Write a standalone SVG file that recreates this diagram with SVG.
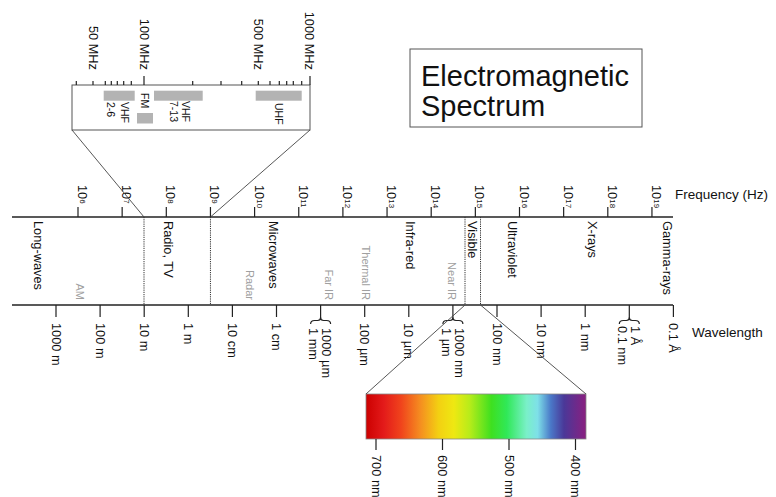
<svg xmlns="http://www.w3.org/2000/svg" width="776" height="497" viewBox="0 0 776 497">
<style>
text{font-family:"Liberation Sans",Arial,Helvetica,sans-serif;fill:#111}
.ax{stroke:#222;stroke-width:1.3;fill:none}
.tk{stroke:#222;stroke-width:1.2;fill:none}
.box{stroke:#555;stroke-width:1;fill:none}
.ln{stroke:#444;stroke-width:0.9;fill:none}
.dot{stroke:#333;stroke-width:1;stroke-dasharray:1.2 1;fill:none}
.lbl{font-size:12.8px}
.hd{font-size:13.5px}
.g{font-size:11px;fill:#a0a0a0}
.sm{font-size:10.5px}
.bar{fill:#b3b3b3}
.sup{font-size:8px}
</style>
<defs>
<linearGradient id="vis" x1="0" y1="0" x2="1" y2="0">
<stop offset="0" stop-color="#cc0000"/>
<stop offset="0.08" stop-color="#e31a1a"/>
<stop offset="0.16" stop-color="#f0441c"/>
<stop offset="0.25" stop-color="#f59020"/>
<stop offset="0.33" stop-color="#f3d012"/>
<stop offset="0.4" stop-color="#eee812"/>
<stop offset="0.47" stop-color="#b8ec1a"/>
<stop offset="0.57" stop-color="#3ee020"/>
<stop offset="0.64" stop-color="#30e858"/>
<stop offset="0.73" stop-color="#7af0c8"/>
<stop offset="0.78" stop-color="#7ee0e8"/>
<stop offset="0.84" stop-color="#4a78c8"/>
<stop offset="0.9" stop-color="#4a3898"/>
<stop offset="1" stop-color="#8a1f80"/>
</linearGradient>
</defs>
<rect width="776" height="497" fill="#ffffff"/>

<g id="title">
<rect class="box" x="410" y="49" width="232" height="78"/>
<text x="421" y="86" font-size="29">Electromagnetic</text>
<text x="421" y="116" font-size="29">Spectrum</text>
</g>

<g id="tv-inset">
<rect class="box" x="72" y="85" width="238" height="45"/>
<path class="tk" d="M76.3 81V85M93 81V85M105.3 81V85M111.3 81V85M117.3 81V85M123.7 81V85M131.3 81V85M192.7 81V85M221 81V85M241.7 81V85M258.3 81V85M270 81V85M279.3 81V85M286.7 81V85M293.3 81V85M301.7 81V85"/>
<path class="tk" d="M144 76V85M310 76V85"/>
<text class="lbl" font-size="12.5" text-anchor="end" transform="translate(88.5,70) rotate(90)">50 MHz</text>
<text class="lbl" font-size="12.5" text-anchor="end" transform="translate(139.5,70) rotate(90)">100 MHz</text>
<text class="lbl" font-size="12.5" text-anchor="end" transform="translate(254,70) rotate(90)">500 MHz</text>
<text class="lbl" font-size="12.5" text-anchor="end" transform="translate(305,70) rotate(90)">1000 MHz</text>
<rect class="bar" x="103.7" y="90.7" width="31" height="10"/>
<rect class="bar" x="137" y="113" width="16" height="10.5"/>
<rect class="bar" x="154" y="90.7" width="48.7" height="10"/>
<rect class="bar" x="255.7" y="90.7" width="46" height="10"/>
<text class="sm" transform="translate(121,102) rotate(90)"><tspan x="0" y="0">VHF</tspan><tspan x="0" y="14">2-6</tspan></text>
<text class="sm" transform="translate(141,93) rotate(90)">FM</text>
<text class="sm" transform="translate(182,101) rotate(90)"><tspan x="0" y="0">VHF</tspan><tspan x="0" y="12.5">7-13</tspan></text>
<text class="sm" transform="translate(275,103) rotate(90)">UHF</text>
</g>

<g id="frequency-axis">
<path class="ax" d="M12 217H673"/>
<path class="tk" d="M78 207V217M122.15 207V217M166.3 207V217M210.45 207V217M254.6 207V217M298.75 207V217M342.9 207V217M387.05 207V217M431.2 207V217M475.35 207V217M519.5 207V217M563.65 207V217M607.8 207V217M651.95 207V217"/>
<text class="lbl" transform="translate(78,185) rotate(90)">10<tspan class="sup" baseline-shift="2">6</tspan></text>
<text class="lbl" transform="translate(122.15,185) rotate(90)">10<tspan class="sup" baseline-shift="2">7</tspan></text>
<text class="lbl" transform="translate(166.3,185) rotate(90)">10<tspan class="sup" baseline-shift="2">8</tspan></text>
<text class="lbl" transform="translate(210.45,185) rotate(90)">10<tspan class="sup" baseline-shift="2">9</tspan></text>
<text class="lbl" transform="translate(254.6,185) rotate(90)">10<tspan class="sup" baseline-shift="2">10</tspan></text>
<text class="lbl" transform="translate(298.75,185) rotate(90)">10<tspan class="sup" baseline-shift="2">11</tspan></text>
<text class="lbl" transform="translate(342.9,185) rotate(90)">10<tspan class="sup" baseline-shift="2">12</tspan></text>
<text class="lbl" transform="translate(387.05,185) rotate(90)">10<tspan class="sup" baseline-shift="2">13</tspan></text>
<text class="lbl" transform="translate(431.2,185) rotate(90)">10<tspan class="sup" baseline-shift="2">14</tspan></text>
<text class="lbl" transform="translate(475.35,185) rotate(90)">10<tspan class="sup" baseline-shift="2">15</tspan></text>
<text class="lbl" transform="translate(519.5,185) rotate(90)">10<tspan class="sup" baseline-shift="2">16</tspan></text>
<text class="lbl" transform="translate(563.65,185) rotate(90)">10<tspan class="sup" baseline-shift="2">17</tspan></text>
<text class="lbl" transform="translate(607.8,185) rotate(90)">10<tspan class="sup" baseline-shift="2">18</tspan></text>
<text class="lbl" transform="translate(651.95,185) rotate(90)">10<tspan class="sup" baseline-shift="2">19</tspan></text>
<text class="hd" x="675" y="199">Frequency (Hz)</text>
</g>

<g id="bands">
<text class="lbl" transform="translate(33.5,221) rotate(90)">Long-waves</text>
<text class="lbl" transform="translate(164,221) rotate(90)">Radio, TV</text>
<text class="lbl" transform="translate(269,221) rotate(90)">Microwaves</text>
<text class="lbl" transform="translate(406,221) rotate(90)">Infra-red</text>
<text class="lbl" transform="translate(468,221) rotate(90)">Visible</text>
<text class="lbl" transform="translate(508,221) rotate(90)">Ultraviolet</text>
<text class="lbl" transform="translate(588,221) rotate(90)">X-rays</text>
<text class="lbl" transform="translate(663,221) rotate(90)">Gamma-rays</text>
<text class="g" text-anchor="end" transform="translate(75.5,300) rotate(90)">AM</text>
<text class="g" text-anchor="end" transform="translate(246,300) rotate(90)">Radar</text>
<text class="g" text-anchor="end" transform="translate(325,300) rotate(90)">Far IR</text>
<text class="g" text-anchor="end" transform="translate(362,300) rotate(90)">Thermal IR</text>
<text class="g" text-anchor="end" transform="translate(448,300) rotate(90)">Near IR</text>
</g>

<g id="wavelength-axis">
<path class="ax" d="M12 305H673"/>
<path class="tk" d="M56 305V317M100.1 305V317M144.2 305V317M188.3 305V317M232.4 305V317M276.5 305V317M320.6 305V318M364.7 305V317M408.8 305V317M452.9 305V318M497 305V317M541.1 305V317M585.2 305V317M629.3 305V318M673.4 305V317"/>
<path class="tk" d="M310.6 324Q310.6 320.5 314.6 320.5L317.6 320.5Q320.6 320.5 320.6 317.5Q320.6 320.5 323.6 320.5L326.6 320.5Q330.6 320.5 330.6 324"/>
<path class="tk" d="M442.9 324Q442.9 320.5 446.9 320.5L449.9 320.5Q452.9 320.5 452.9 317.5Q452.9 320.5 455.9 320.5L458.9 320.5Q462.9 320.5 462.9 324"/>
<path class="tk" d="M619.3 324Q619.3 320.5 623.3 320.5L626.3 320.5Q629.3 320.5 629.3 317.5Q629.3 320.5 632.3 320.5L635.3 320.5Q639.3 320.5 639.3 324"/>
<text class="lbl" transform="translate(51.5,323) rotate(90)">1000 m</text>
<text class="lbl" transform="translate(95.6,323) rotate(90)">100 m</text>
<text class="lbl" transform="translate(139.7,323) rotate(90)">10 m</text>
<text class="lbl" transform="translate(183.8,323) rotate(90)">1 m</text>
<text class="lbl" transform="translate(227.9,323) rotate(90)">10 cm</text>
<text class="lbl" transform="translate(272,323) rotate(90)">1 cm</text>
<text class="lbl" transform="translate(322,328) rotate(90)"><tspan x="0" y="0">1000 µm</tspan><tspan x="0" y="13.5">1 mm</tspan></text>
<text class="lbl" transform="translate(360.2,323) rotate(90)">100 µm</text>
<text class="lbl" transform="translate(404.3,323) rotate(90)">10 µm</text>
<text class="lbl" transform="translate(454.5,328) rotate(90)"><tspan x="0" y="0">1000 nm</tspan><tspan x="0" y="13">1 µm</tspan></text>
<text class="lbl" transform="translate(492.5,323) rotate(90)">100 nm</text>
<text class="lbl" transform="translate(536.6,323) rotate(90)">10 nm</text>
<text class="lbl" transform="translate(580.7,323) rotate(90)">1 nm</text>
<text class="lbl" transform="translate(630.5,326) rotate(90)"><tspan x="0" y="0">1 Å</tspan><tspan x="0" y="13">0.1 nm</tspan></text>
<text class="lbl" transform="translate(668.9,323) rotate(90)">0.1 Å</text>
<text class="hd" x="692" y="337">Wavelength</text>
</g>

<g id="visible-spectrum">
<rect x="366" y="394" width="220" height="45" fill="url(#vis)" stroke="#888" stroke-width="0.8"/>
<path class="tk" d="M376 439V450M442.5 439V450M509 439V450M575.5 439V450"/>
<text class="lbl" transform="translate(371.5,455) rotate(90)">700 nm</text>
<text class="lbl" transform="translate(438,455) rotate(90)">600 nm</text>
<text class="lbl" transform="translate(504.5,455) rotate(90)">500 nm</text>
<text class="lbl" transform="translate(571,455) rotate(90)">400 nm</text>
</g>

<g id="connectors">
<path class="ln" d="M72 130L144 217M310 130L210.45 217"/>
<path class="dot" d="M144 217V305M210.45 217V305M465 217V305M480.5 217V305"/>
<path class="ln" d="M465 305L366 394M480.5 305L586 394"/>
</g>
</svg>
